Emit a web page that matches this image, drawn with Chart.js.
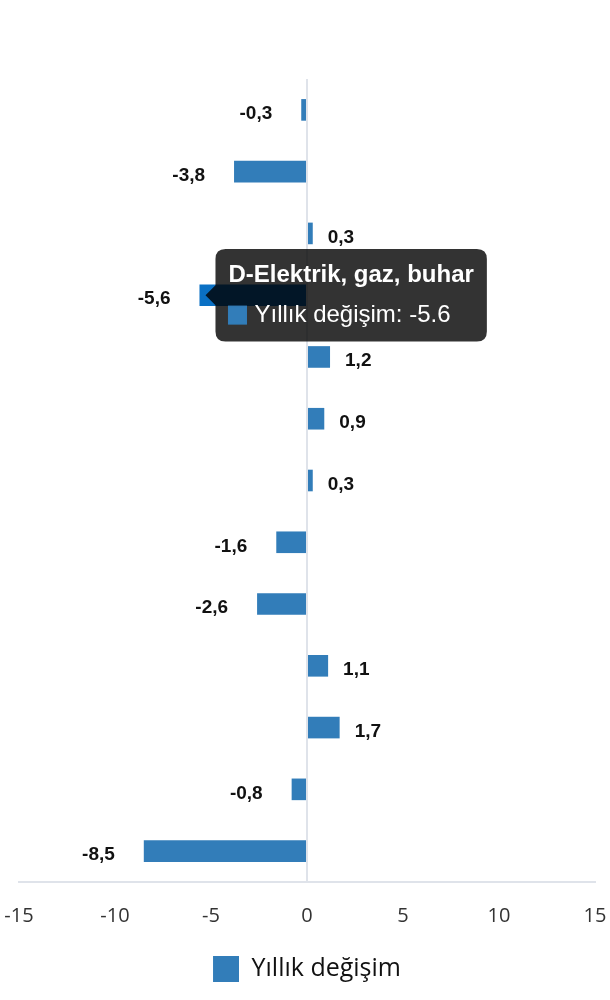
<!DOCTYPE html>
<html lang="tr">
<head>
    <meta charset="UTF-8" />
    <title>Yıllık değişim</title>
    <script src="https://cdn.jsdelivr.net/npm/chart.js"></script>
    <style>
        html, body { margin: 0; padding: 0; background: #fff; }
        #wrap { width: 610px; height: 1000px; }
    </style>
</head>
<body>
    <div id="wrap"><canvas id="barChart"></canvas></div>

    <script>
        const categories = [
            "Toplam",
            "B-Madencilik ve taşocakçılığı",
            "C-İmalat",
            "D-Elektrik, gaz, buhar",
            "E-Su temini",
            "F-İnşaat",
            "G-Toptan ve perakende ticaret",
            "H-Ulaştırma ve depolama",
            "I-Konaklama ve yiyecek",
            "J-Bilgi ve iletişim",
            "L-Gayrimenkul faaliyetleri",
            "M-Mesleki, bilimsel ve teknik",
            "N-İdari ve destek hizmet"
        ];
        const yillikDegisim = [-0.3, -3.8, 0.3, -5.6, 1.2, 0.9, 0.3, -1.6, -2.6, 1.1, 1.7, -0.8, -8.5];
        const xTicks = [-15, -10, -5, 0, 5, 10, 15];
        const seriesName = "Yıllık değişim";
        const hoveredIndex = 3;

        const barBlue = "#327db9";
        const hoverBlue = "#0a70c4";
        const gridGray = "#dfe3ea";

        // value labels at the end of each bar, comma decimals
        const valueLabels = {
            id: "valueLabels",
            afterDatasetsDraw(chart) {
                const ctx = chart.ctx;
                const meta = chart.getDatasetMeta(0);
                ctx.save();
                ctx.font = "bold 19px 'Liberation Sans', Arial, sans-serif";
                ctx.fillStyle = "#111";
                ctx.textBaseline = "middle";
                meta.data.forEach((bar, i) => {
                    const v = yillikDegisim[i];
                    const txt = v.toFixed(1).replace(".", ",");
                    if (v < 0) {
                        ctx.textAlign = "right";
                        ctx.fillText(txt, bar.x - 29, bar.y + 4);
                    } else {
                        ctx.textAlign = "left";
                        ctx.fillText(txt, bar.x + 15, bar.y + 4);
                    }
                });
                ctx.restore();
            }
        };

        const ctx = document.getElementById("barChart").getContext("2d");
        const chart = new Chart(ctx, {
            type: "bar",
            data: {
                labels: categories,
                datasets: [{
                    label: seriesName,
                    data: yillikDegisim,
                    backgroundColor: barBlue,
                    hoverBackgroundColor: hoverBlue,
                    borderWidth: 0,
                    barPercentage: 0.35,
                    categoryPercentage: 1
                }]
            },
            options: {
                indexAxis: "y",
                responsive: true,
                maintainAspectRatio: false,
                animation: false,
                layout: {
                    padding: { top: 79, left: 19, right: 15, bottom: 8 }
                },
                scales: {
                    x: {
                        min: -15,
                        max: 15,
                        afterBuildTicks: (axis) => {
                            axis.ticks = xTicks.map(v => ({ value: v }));
                        },
                        afterFit: (axis) => {
                            // let the end labels hang over the padding
                            axis.paddingLeft = 0;
                            axis.paddingRight = 0;
                            axis.height -= 2;
                        },
                        grid: {
                            drawTicks: false,
                            color: (c) => (c.tick && c.tick.value === 0 ? gridGray : "transparent"),
                            lineWidth: 2
                        },
                        border: { display: true, color: gridGray, width: 2 },
                        ticks: {
                            padding: 22,
                            color: "#333",
                            font: { family: "'Open Sans', sans-serif", size: 20 }
                        }
                    },
                    y: {
                        display: false
                    }
                },
                plugins: {
                    legend: {
                        position: "bottom",
                        labels: {
                            boxWidth: 26,
                            boxHeight: 26,
                            padding: 8,
                            color: "#111",
                            font: { family: "'Open Sans', sans-serif", size: 25 }
                        }
                    },
                    tooltip: {
                        enabled: true,
                        xAlign: "left",
                        yAlign: "center",
                        backgroundColor: "rgba(0,0,0,0.8)",
                        cornerRadius: 10,
                        caretSize: 10,
                        caretPadding: 6,
                        padding: { top: 12, bottom: 12, left: 13, right: 13 },
                        titleMarginBottom: 11,
                        titleColor: "#fff",
                        bodyColor: "#fff",
                        multiKeyBackground: barBlue,
                        titleFont: { family: "'Liberation Sans', Arial, sans-serif", size: 24, weight: "bold" },
                        bodyFont: { family: "'Liberation Sans', Arial, sans-serif", size: 24 },
                        boxWidth: 18,
                        boxHeight: 18,
                        boxPadding: 6,
                        callbacks: {
                            label: (item) => `${seriesName}: ${item.raw}`,
                            labelColor: () => ({ borderColor: barBlue, backgroundColor: barBlue, borderWidth: 0 })
                        }
                    }
                }
            },
            plugins: [valueLabels]
        });

        // show the tooltip on the D bar like in the reference
        const active = [{ datasetIndex: 0, index: hoveredIndex }];
        const bar = chart.getDatasetMeta(0).data[hoveredIndex];
        chart.setActiveElements(active);
        chart.tooltip.setActiveElements(active, { x: bar.x, y: bar.y });
        chart.update();
    </script>
</body>
</html>
